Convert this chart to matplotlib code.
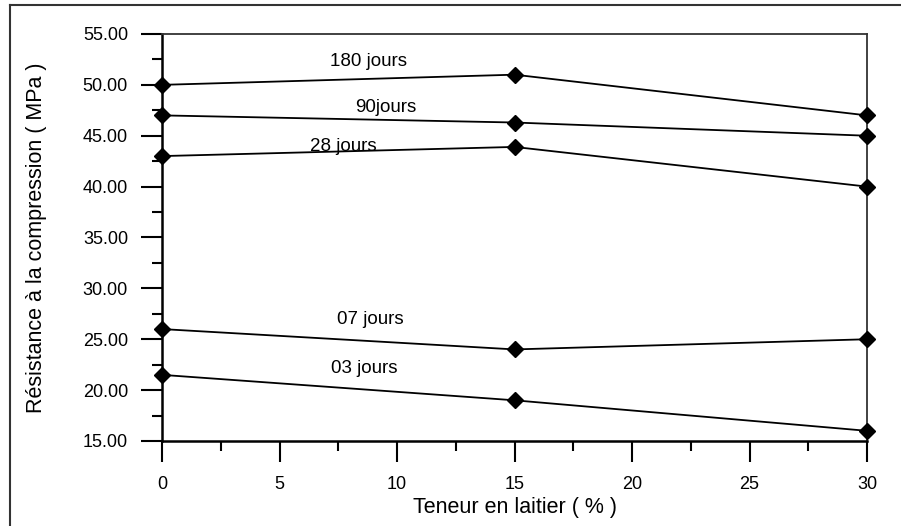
import matplotlib.pyplot as plt
from matplotlib.ticker import MultipleLocator, FormatStrFormatter
from matplotlib.lines import Line2D

plt.rcParams['font.family'] = ['Liberation Sans', 'DejaVu Sans']

teneur = [0, 15, 30]
j180 = [50.0, 51.0, 47.0]
j90 = [47.0, 46.3, 45.0]
j28 = [43.0, 43.9, 40.0]
j07 = [26.0, 24.0, 25.0]
j03 = [21.5, 19.0, 16.0]

series = [j180, j90, j28, j07, j03]
labels = ["180 jours", "90jours", "28 jours", "07 jours", "03 jours"]
label_x = [8.8, 9.5, 7.7, 8.85, 8.6]
label_y = [52.3, 47.8, 43.9, 26.9, 22.1]

fig = plt.figure(figsize=(9.01, 5.26), dpi=100)
ax = fig.add_axes([0.1798, 0.1616, 0.7825, 0.7738])

for vals in series:
    ax.plot(
        teneur,
        vals,
        color="black",
        linewidth=1.3,
        marker="D",
        markersize=8.5,
        clip_on=False,
        zorder=3
    )

for txt, lx, ly in zip(labels, label_x, label_y):
    ax.text(lx, ly, txt, ha="center", va="center", fontsize=13.5)

ax.set_xlim(0, 30)
ax.set_ylim(15, 55)

ax.xaxis.set_major_locator(MultipleLocator(5))
ax.xaxis.set_minor_locator(MultipleLocator(2.5))
ax.yaxis.set_major_locator(MultipleLocator(5))
ax.yaxis.set_minor_locator(MultipleLocator(2.5))
ax.yaxis.set_major_formatter(FormatStrFormatter("%.2f"))

ax.tick_params(which="major", direction="out", length=15, width=1.5,
               labelsize=13, colors="black")
ax.tick_params(axis="y", which="major", pad=9.5)
ax.tick_params(axis="x", which="major", pad=10)
ax.tick_params(which="minor", direction="out", length=7, width=1.5)

for side in ["left", "bottom"]:
    ax.spines[side].set_linewidth(1.8)
for side in ["top", "right"]:
    ax.spines[side].set_linewidth(1.3)
    ax.spines[side].set_color("#333333")

ax.set_xlabel("Teneur en laitier ( % )", fontsize=15.5)
ax.xaxis.label.set_va("center")
ax.xaxis.set_label_coords(515 / 901, 1 - 507 / 526, transform=fig.transFigure)

ax.set_ylabel("Résistance à la compression ( MPa )", fontsize=15.5)
ax.yaxis.label.set_va("center")
ax.yaxis.set_label_coords(37 / 901, 1 - 238 / 526, transform=fig.transFigure)

# outer frame (cropped at right and bottom)
fig.add_artist(Line2D([10 / 901, 1.0], [1 - 5 / 526, 1 - 5 / 526],
                      transform=fig.transFigure, color="#333333", linewidth=1.5))
fig.add_artist(Line2D([10 / 901, 10 / 901], [0.0, 1 - 5 / 526],
                      transform=fig.transFigure, color="#333333", linewidth=1.5))

fig.savefig("out.png", dpi=100)
plt.close(fig)
